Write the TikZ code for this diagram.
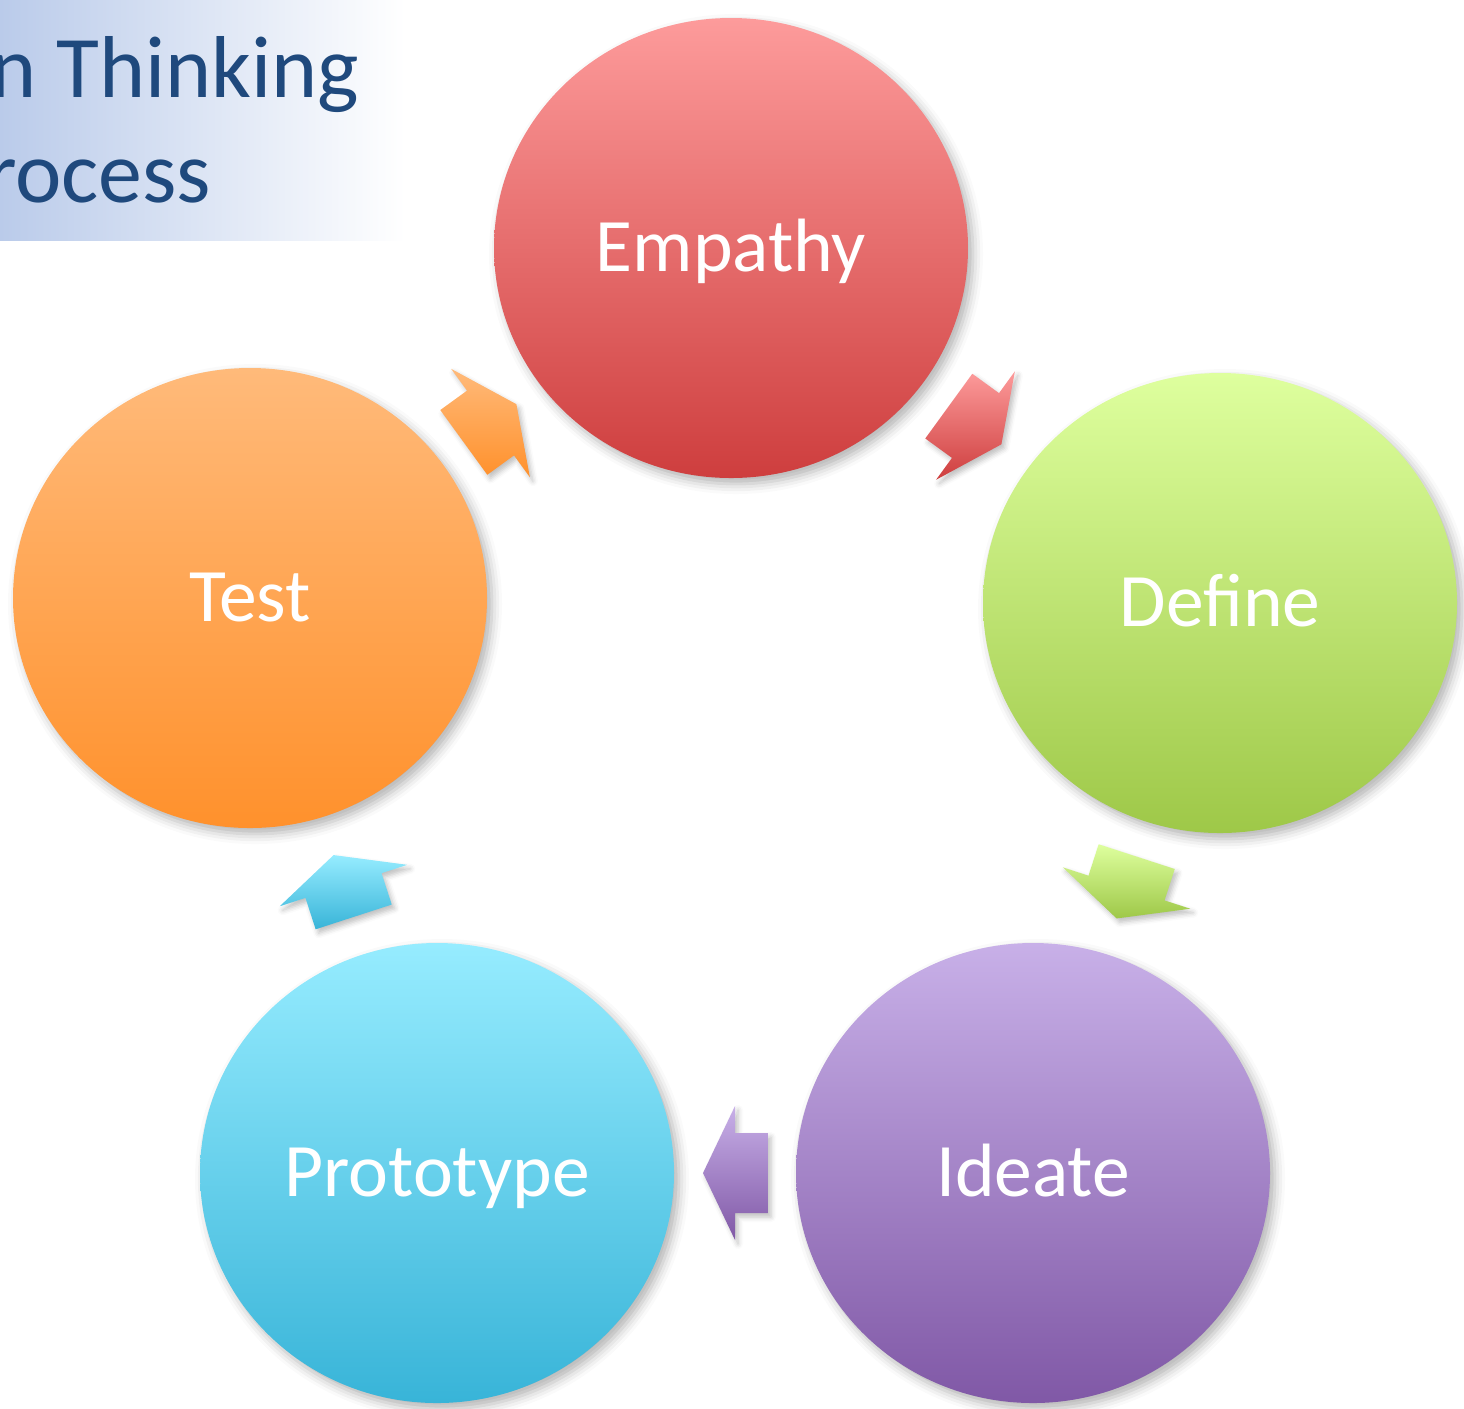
\documentclass[tikz,border=0pt]{standalone}
\usepackage{fontspec}
\setmainfont{Carlito}
\usetikzlibrary{calc,shapes.geometric,shadows.blur}
\definecolor{empathytop}{RGB}{253,155,155}
\definecolor{empathybot}{RGB}{206,62,62}
\definecolor{definetop}{RGB}{222,255,158}
\definecolor{definebot}{RGB}{158,200,72}
\definecolor{ideatetop}{RGB}{200,176,232}
\definecolor{ideatebot}{RGB}{128,88,166}
\definecolor{prototop}{RGB}{150,236,255}
\definecolor{protobot}{RGB}{56,180,216}
\definecolor{testtop}{RGB}{255,186,122}
\definecolor{testbot}{RGB}{255,145,44}
\definecolor{titleblue}{RGB}{31,73,125}
\definecolor{titleleft}{RGB}{186,203,234}
\definecolor{titlemid}{RGB}{206,219,240}
\tikzset{
  phase/.style={ellipse,minimum width=4.74cm,minimum height=4.60cm,inner sep=0pt,text=white,
    font=\fontsize{21.5}{26}\selectfont,text height=0.46cm,text depth=0pt,
    blur shadow={shadow xshift=0.05cm,shadow yshift=-0.06cm,shadow opacity=30,shadow blur radius=0.1cm}},
  flow/.style={blur shadow={shadow xshift=0.03cm,shadow yshift=-0.04cm,shadow opacity=25,shadow blur radius=0.05cm}},
  heading/.style={text=titleblue,font=\fontsize{25}{30}\selectfont,inner sep=0pt}
}
\begin{document}
\begin{tikzpicture}
\useasboundingbox (0,0) rectangle (14.64,-14.08);
\shade[left color=titleleft,middle color=titlemid,right color=white] (0,0) rectangle (4.05,-2.40);
\node[heading,anchor=base east] (title1) at (3.60,-0.97) {n Thinking};
\node[heading,anchor=base east] (title2) at (2.12,-2.02) {rocess};

\node[phase,top color=empathytop,bottom color=empathybot] (empathy) at (7.31,-2.48) {Empathy};
\node[phase,top color=definetop,bottom color=definebot] (define) at (12.20,-6.03) {Define};
\node[phase,top color=ideatetop,bottom color=ideatebot] (ideate) at (10.33,-11.73) {Ideate};
\node[phase,top color=prototop,bottom color=protobot] (prototype) at (4.37,-11.73) {Prototype};
\node[phase,top color=testtop,bottom color=testbot] (test) at (2.50,-5.98) {Test};

\path[flow,top color=empathytop,bottom color=empathybot,shift={($(empathy)!0.5!(define)$)},rotate=-36]
  (-0.33,0.40) -- (0,0.40) -- (0,0.67) -- (0.32,0) -- (0,-0.67) -- (0,-0.40) -- (-0.33,-0.40) -- cycle;
\path[flow,top color=definetop,bottom color=definebot,shift={($(define)!0.5!(ideate)$)},rotate=-108]
  (-0.33,0.40) -- (0,0.40) -- (0,0.67) -- (0.32,0) -- (0,-0.67) -- (0,-0.40) -- (-0.33,-0.40) -- cycle;
\path[flow,top color=ideatetop,bottom color=ideatebot,shift={($(ideate)!0.5!(prototype)$)},rotate=180]
  (-0.33,0.40) -- (0,0.40) -- (0,0.67) -- (0.32,0) -- (0,-0.67) -- (0,-0.40) -- (-0.33,-0.40) -- cycle;
\path[flow,top color=prototop,bottom color=protobot,shift={($(prototype)!0.5!(test)$)},rotate=108]
  (-0.33,0.40) -- (0,0.40) -- (0,0.67) -- (0.32,0) -- (0,-0.67) -- (0,-0.40) -- (-0.33,-0.40) -- cycle;
\path[flow,top color=testtop,bottom color=testbot,shift={($(test)!0.5!(empathy)$)},rotate=36]
  (-0.33,0.40) -- (0,0.40) -- (0,0.67) -- (0.32,0) -- (0,-0.67) -- (0,-0.40) -- (-0.33,-0.40) -- cycle;
\end{tikzpicture}
\end{document}
